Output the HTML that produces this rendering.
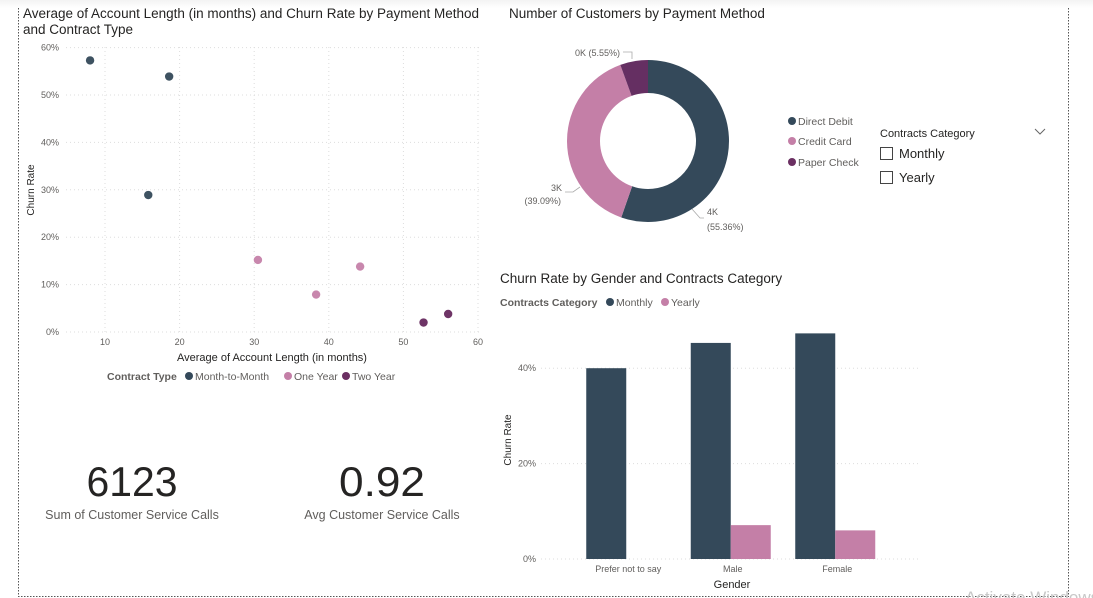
<!DOCTYPE html>
<html><head><meta charset="utf-8"><style>
html,body{margin:0;padding:0;background:#fff;width:1093px;height:598px;overflow:hidden;font-family:"Liberation Sans",sans-serif}
svg{position:absolute;left:0;top:0}
</style></head><body>
<svg id="s" width="1093" height="598" viewBox="0 0 1093 598">
<defs><linearGradient id="tb" x1="0" y1="0" x2="0" y2="1"><stop offset="0" stop-color="#f3f3f3"/><stop offset="1" stop-color="#fff"/></linearGradient></defs>
<rect x="0" y="0" width="1093" height="8" fill="url(#tb)"/>
<line x1="18.5" y1="8" x2="18.5" y2="597" stroke="#555" stroke-dasharray="1.5,1.5"/>
<line x1="18" y1="596.5" x2="1068" y2="596.5" stroke="#555" stroke-dasharray="1.5,1.5"/>
<line x1="1068.5" y1="8" x2="1068.5" y2="597" stroke="#555" stroke-dasharray="1.5,1.5"/>

<g id="scatter">
<text x="23" y="18" font-size="13.5" fill="#252423">Average of Account Length (in months) and Churn Rate by Payment Method</text>
<text x="23" y="34" font-size="13.5" fill="#252423">and Contract Type</text>
<text transform="translate(34,190) rotate(-90)" text-anchor="middle" font-size="10" fill="#252423">Churn Rate</text>
<text x="272" y="361" text-anchor="middle" font-size="11" fill="#252423">Average of Account Length (in months)</text>
<g>
<text x="107" y="380" font-size="10.5" font-weight="bold" fill="#605e5c">Contract Type</text>
<circle cx="189" cy="376" r="4" fill="#34495a"/>
<text x="195" y="380" font-size="10.5" fill="#605e5c">Month-to-Month</text>
<circle cx="288" cy="376" r="4" fill="#c47fa7"/>
<text x="294" y="380" font-size="10.5" fill="#605e5c">One Year</text>
<circle cx="346" cy="376" r="4" fill="#6b2f62"/>
<text x="352" y="380" font-size="10.5" fill="#605e5c">Two Year</text>
</g>
</g>

<g id="donut">
<text x="509" y="18" font-size="13.5" fill="#252423">Number of Customers by Payment Method</text>
</g>
<g>
<circle cx="792" cy="121" r="4" fill="#34495a"/>
<text x="798" y="125" font-size="10.5" fill="#605e5c">Direct Debit</text>
<circle cx="792" cy="141" r="4" fill="#c47fa7"/>
<text x="798" y="145" font-size="10.5" fill="#605e5c">Credit Card</text>
<circle cx="792" cy="162" r="4" fill="#6b2f62"/>
<text x="798" y="166" font-size="10.5" fill="#605e5c">Paper Check</text>
</g>
<g>
<text x="880" y="137" font-size="11" fill="#252423">Contracts Category</text>
<path d="M1035 129 l5 5 l5 -5" fill="none" stroke="#666" stroke-width="1"/>
<rect x="880.5" y="147.5" width="12" height="12" fill="#fff" stroke="#444"/>
<text x="899" y="158" font-size="13" fill="#252423">Monthly</text>
<rect x="880.5" y="171.5" width="12" height="12" fill="#fff" stroke="#444"/>
<text x="899" y="182" font-size="13" fill="#252423">Yearly</text>
</g>

<g id="bars">
<text x="500" y="283" font-size="13.5" fill="#252423">Churn Rate by Gender and Contracts Category</text>
<text x="500" y="306" font-size="10.5" font-weight="bold" fill="#605e5c">Contracts Category</text>
<circle cx="610" cy="302" r="4" fill="#34495a"/>
<text x="616" y="306" font-size="10.5" fill="#605e5c">Monthly</text>
<circle cx="665" cy="302" r="4" fill="#c47fa7"/>
<text x="671" y="306" font-size="10.5" fill="#605e5c">Yearly</text>
<text transform="translate(511,440) rotate(-90)" text-anchor="middle" font-size="10" fill="#252423">Churn Rate</text>
<text x="732" y="588" text-anchor="middle" font-size="11" fill="#252423">Gender</text>
</g>

<g>
<text x="132" y="496" text-anchor="middle" font-size="42" textLength="91" lengthAdjust="spacingAndGlyphs" fill="#252423">6123</text>
<text x="132" y="519" text-anchor="middle" font-size="12.5" fill="#605e5c">Sum of Customer Service Calls</text>
<text x="382" y="496" text-anchor="middle" font-size="42" textLength="86" lengthAdjust="spacingAndGlyphs" fill="#252423">0.92</text>
<text x="382" y="519" text-anchor="middle" font-size="12.5" fill="#605e5c">Avg Customer Service Calls</text>
</g>
<text x="965" y="603" font-size="17" fill="#c8c8c8">Activate Windows</text>
</svg>
<script>
var NS="http://www.w3.org/2000/svg";
function mk(p,t,a){var e=document.createElementNS(NS,t);for(var k in a)e.setAttribute(k,a[k]);p.appendChild(e);return e;}

// scatter data
var scatterX=[8.0,18.6,15.8,30.5,38.3,44.2,52.7,56.0];
var scatterY=[57.3,53.9,28.9,15.2,7.9,13.8,2.0,3.8];
var scatterType=["Month-to-Month","Month-to-Month","Month-to-Month","One Year","One Year","One Year","Two Year","Two Year"];
var scatterXTicks=[10,20,30,40,50,60];
var scatterYTicks=[0,10,20,30,40,50,60];

// donut data
var donutCats=["Direct Debit","Credit Card","Paper Check"];
var donutPct=[55.36,39.09,5.55];
var donutLabels=["4K","3K","0K"];

// bar data
var barCats=["Prefer not to say","Male","Female"];
var barMonthly=[40.0,45.3,47.3];
var barYearly=[0,7.1,6.0];
var barYTicks=[0,20,40];

var typeColor={"Month-to-Month":"#3e5261","One Year":"#c887ad","Two Year":"#6e3466"};

// scatter
var sg=document.getElementById('scatter');
function sx(v){return 105+(v-10)*7.46;}
function sy(v){return 332-v*4.74;}
scatterYTicks.forEach(function(t){
  var l=mk(sg,'line',{x1:66,x2:479,y1:sy(t),y2:sy(t),stroke:'#ddd','stroke-dasharray':'1,3'});
  
  
  var tx=mk(sg,'text',{x:59,y:sy(t)+3,'text-anchor':'end','font-size':9,fill:'#605e5c'});tx.textContent=t+'%';
  
  
});
scatterXTicks.forEach(function(t){
  var l=mk(sg,'line',{x1:sx(t),x2:sx(t),y1:47,y2:332,stroke:'#ddd','stroke-dasharray':'1,3'});
  
  
  var tx=mk(sg,'text',{x:sx(t),y:345,'text-anchor':'middle','font-size':9,fill:'#605e5c'});tx.textContent=t;
  
  
});
scatterX.forEach(function(v,i){
  var c=mk(sg,'circle',{cx:sx(v),cy:sy(scatterY[i]),r:4.2,fill:typeColor[scatterType[i]]});
  
  
});

// donut
var dg=document.getElementById('donut');
var cx=648,cy=141,R=81,r=48,cols=["#34495a","#c47fa7","#652f62"];
var a0=0;
donutPct.forEach(function(p,i){
  var a1=a0+p/100*2*Math.PI;
  function pt(rad,a){return [cx+rad*Math.sin(a),cy-rad*Math.cos(a)];}
  var p1=pt(R,a0),p2=pt(R,a1),p3=pt(r,a1),p4=pt(r,a0),lg=(a1-a0)>Math.PI?1:0;
  var d='M'+p1+' A'+R+','+R+' 0 '+lg+' 1 '+p2+' L'+p3+' A'+r+','+r+' 0 '+lg+' 0 '+p4+' Z';
  var s=mk(dg,'path',{d:d,fill:cols[i]});
  
  
  a0=a1;
});
function lbl(x,y,t,anc){var e=mk(dg,'text',{x:x,y:y,'font-size':9,fill:'#605e5c','text-anchor':anc||'start'});e.textContent=t;
  
  }
lbl(620,56,donutLabels[2]+' ('+donutPct[2].toFixed(2)+'%)','end');
lbl(562,191,donutLabels[1],'end');lbl(561,204,'('+donutPct[1].toFixed(2)+'%)','end');
lbl(707,215,donutLabels[0]);lbl(707,230,'('+donutPct[0].toFixed(2)+'%)');
var ll=mk(dg,'path',{d:'M623 52 H632 V59 M565 192 H573 L580 187 M692 209 L700 218 H704',fill:'none',stroke:'#aaa','stroke-width':0.8});



// bars
var bg=document.getElementById('bars');
function by(v){return 559-v*4.77;}
var bandStart=574,band=104.5,bw=40;
barYTicks.forEach(function(t){
  var l=mk(bg,'line',{x1:541,x2:918,y1:by(t),y2:by(t),stroke:'#ddd','stroke-dasharray':'1,3'});
  
  
  var tx=mk(bg,'text',{x:536,y:by(t)+3,'text-anchor':'end','font-size':9,fill:'#605e5c'});tx.textContent=t+'%';
  
  
});
barCats.forEach(function(c,i){
  var cc=bandStart+band*i+band/2;
  var m=mk(bg,'rect',{x:cc-bw,y:by(barMonthly[i]),width:bw,height:barMonthly[i]*4.77,fill:'#34495a'});
  
  
  if(barYearly[i]>0){var y=mk(bg,'rect',{x:cc,y:by(barYearly[i]),width:bw,height:barYearly[i]*4.77,fill:'#c47fa7'});
  
  }
  var tx=mk(bg,'text',{x:cc+2,y:572,'text-anchor':'middle','font-size':9,fill:'#605e5c'});tx.textContent=c;
  
  
});
</script>
</body></html>
